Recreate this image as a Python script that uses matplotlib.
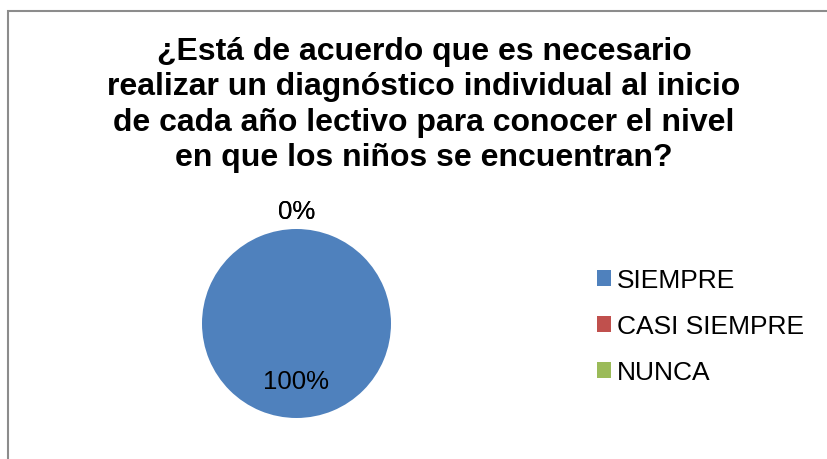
import matplotlib
matplotlib.use("Agg")
import matplotlib.pyplot as plt
from matplotlib.patches import Rectangle
import numpy as np

plt.rcParams['font.family'] = ['Liberation Sans', 'DejaVu Sans']

# data
categories = ["SIEMPRE", "CASI SIEMPRE", "NUNCA"]
values = [100, 0, 0]
colors = ["#4F81BD", "#C0504D", "#9BBB59"]
title = ("¿Está de acuerdo que es necesario\n"
         "realizar un diagnóstico individual al inicio\n"
         "de cada año lectivo para conocer el nivel\n"
         "en que los niños se encuentran?")

W, H = 827, 460
fig = plt.figure(figsize=(W / 100, H / 100), dpi=100)

# chart border (only top/left edges visible in the crop)
fig.patches.append(Rectangle((8 / W, -0.1), 1.2, 1 - 12 / H + 0.1,
                             transform=fig.transFigure, fill=False,
                             edgecolor="#8c8c8c", linewidth=1.5))

fig.text(424 / W, 1 - 105 / H, title, ha="center", va="center",
         fontsize=23, fontweight="bold", linespacing=1.24)

# pie
ax = fig.add_axes([202 / W, 41 / H, 189 / W, 189 / H])
wedges, _ = ax.pie(values, colors=colors, startangle=90, counterclock=False,
                   radius=1, wedgeprops=dict(linewidth=0))
ax.set_xlim(-1, 1)
ax.set_ylim(-1, 1)
ax.set_aspect("equal")
ax.axis("off")

total = sum(values)
for w, v in zip(wedges, values):
    ang = np.deg2rad((w.theta1 + w.theta2) / 2)
    r = 0.61 if v > 0 else 1.19
    ax.text(r * np.cos(ang), r * np.sin(ang), f"{v / total * 100:.0f}%",
            ha="center", va="center", fontsize=18.5, clip_on=False)

fig.legend(wedges, categories, loc="center left",
           bbox_to_anchor=(573 / W, 1 - 327 / H), frameon=False,
           fontsize=19, handlelength=0.55, handleheight=0.55,
           handletextpad=0.2, labelspacing=0.83)

fig.savefig("out.png", dpi=100)
